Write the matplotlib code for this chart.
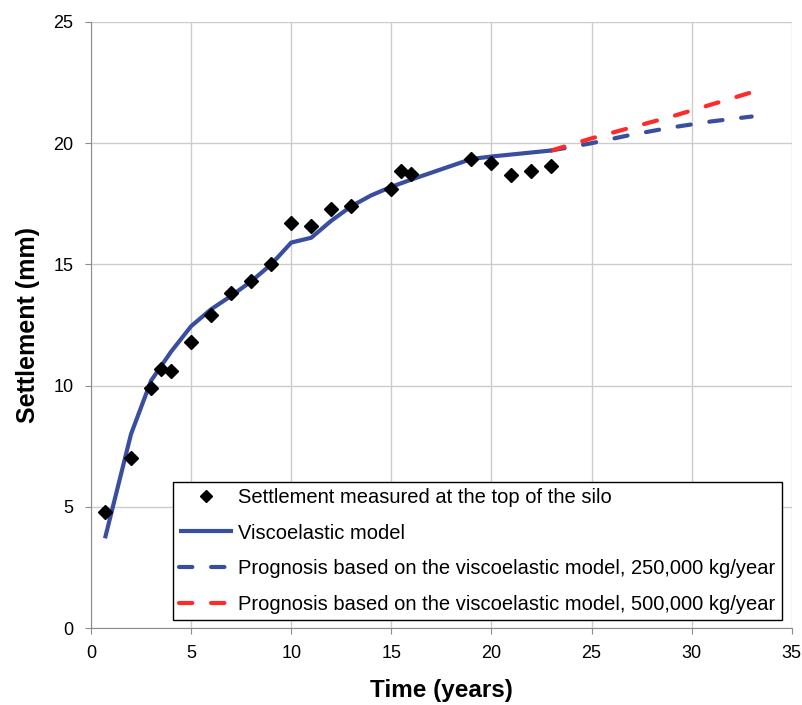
import numpy as np
import matplotlib
matplotlib.use("Agg")
import matplotlib.pyplot as plt

plt.rcParams['font.family'] = ['Liberation Sans', 'DejaVu Sans']

# measured settlement at the top of the silo
meas_t = [0.7, 2, 3, 3.5, 4, 5, 6, 7, 8, 9, 10, 11, 12, 13, 15, 15.5, 16, 19, 20, 21, 22, 23]
meas_s = [4.8, 7.0, 9.9, 10.7, 10.6, 11.8, 12.9, 13.8, 14.3, 15.0, 16.7, 16.6, 17.3, 17.4,
          18.1, 18.85, 18.75, 19.35, 19.2, 18.7, 18.85, 19.05]

# viscoelastic model
model_t = [0.7, 2, 3, 4, 5, 6, 7, 8, 9, 10, 11, 12, 13, 14, 15, 16, 19, 20, 23]
model_s = [3.7, 8.0, 10.2, 11.4, 12.45, 13.15, 13.7, 14.3, 15.0, 15.9, 16.1, 16.8, 17.4,
           17.85, 18.2, 18.5, 19.35, 19.45, 19.7]

# prognoses
prog_t = [23, 25, 27, 29, 31, 33]
prog_250 = [19.7, 20.0, 20.35, 20.65, 20.9, 21.1]
prog_500 = [19.7, 20.2, 20.65, 21.1, 21.6, 22.1]

blue = '#3a4ea0'
red = '#ff2a2a'
dash = (0, (3.2, 4.5))

fig = plt.figure(figsize=(8.03, 7.05), dpi=100)
ax = fig.add_axes([0.1133, 0.1092, 0.8727, 0.8596])

ax.plot(prog_t, prog_250, color=blue, lw=3, ls=dash, dash_capstyle='round',
        label='Prognosis based on the viscoelastic model, 250,000 kg/year', zorder=3)
ax.plot(prog_t, prog_500, color=red, lw=3, ls=dash, dash_capstyle='round',
        label='Prognosis based on the viscoelastic model, 500,000 kg/year', zorder=3)
ax.plot(model_t, model_s, color=blue, lw=3, solid_capstyle='butt',
        label='Viscoelastic model', zorder=4)
ax.plot(meas_t, meas_s, ls='none', marker='D', ms=7.5, color='black',
        label='Settlement measured at the top of the silo', zorder=5)

ax.set_xlim(0, 35)
ax.set_ylim(0, 25)
ax.set_xticks(np.arange(0, 36, 5))
ax.set_yticks(np.arange(0, 26, 5))
ax.grid(True, color='#cccccc', lw=1)
ax.set_axisbelow(True)
for side in ['top', 'right']:
    ax.spines[side].set_visible(False)
for side in ['left', 'bottom']:
    ax.spines[side].set_color('#8c8c8c')
ax.tick_params(direction='out', length=4.5, color='#8c8c8c', labelsize=13, pad=8)

ax.set_xlabel('Time (years)', fontsize=17.5, fontweight='bold', labelpad=12)
ax.set_ylabel('Settlement (mm)', fontsize=18, fontweight='bold', labelpad=10)

h, l = ax.get_legend_handles_labels()
order = [3, 2, 0, 1]
leg = ax.legend([h[i] for i in order], [l[i] for i in order], loc='lower right',
                bbox_to_anchor=(0.9857, 0.0132), borderaxespad=0, fontsize=14.5,
                frameon=True, fancybox=False, edgecolor='black', framealpha=1,
                handlelength=2.7, handletextpad=0.25, labelspacing=0.83, borderpad=0.3,
                markerscale=0.75)
leg.get_frame().set_linewidth(1)

fig.savefig('out.png', dpi=100)
